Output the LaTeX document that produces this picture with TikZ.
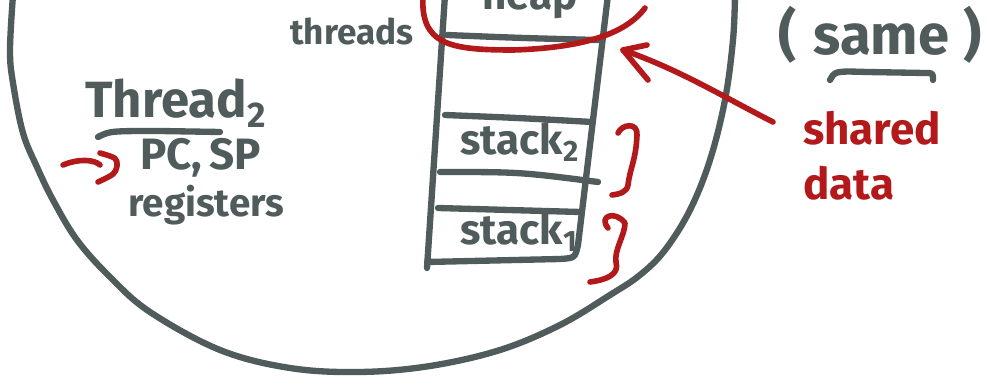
\documentclass[tikz,border=0pt]{standalone}
\usepackage{fontspec}
\setmainfont{Fira Sans}
\definecolor{inkgrey}{HTML}{505B5B}
\definecolor{inkred}{HTML}{B3191A}
\tikzset{
  ink/.style={line width=3.6pt, draw=inkgrey, line cap=round, line join=round},
  redink/.style={line width=3.2pt, draw=inkred, line cap=round, line join=round},
  scrawl/.style={anchor=base west, inner sep=0pt, text=inkgrey, font=\bfseries\fontsize{22}{24}\selectfont},
  redscrawl/.style={scrawl, text=inkred, font=\bfseries\fontsize{25}{27}\selectfont},
}

\begin{document}
\begin{tikzpicture}[x=0.02cm, y=-0.02cm]
\useasboundingbox (0,0) rectangle (988,381);
\clip (0,0) rectangle (988,381);
% the process, open at the top
\draw[ink] plot[smooth, tension=0.6] coordinates {(13,-5) (10,50) (13,83) (23,133) (37,167) (53,200) (77,240) (110,277) (150,312) (220,350) (290,368) (360,372) (430,366) (500,350) (560,325) (610,295) (640,275) (665,250) (690,210) (710,160) (725,100) (733,40) (735,-5)};
% address space column
\draw[ink] (445,-5) -- (427,268);
\draw[ink] (608,-5) -- (578,245) .. controls (575,258) .. (560,259) -- (427,262);
\draw[ink] (447,35) .. controls (520,38) .. (598,40);
\draw[ink] (445,115) .. controls (520,118) .. (592,122);
\draw[ink] (440,172) .. controls (520,172) .. (598,182);
\draw[ink] (438,208) -- (580,212);
\node[scrawl, font=\bfseries\fontsize{24}{26}\selectfont] (heap) at (482,10) {heap};
\node[scrawl, font=\bfseries\fontsize{24}{26}\selectfont] (stacktwo) at (460,155) {stack\textsubscript{2}};
\node[scrawl, font=\bfseries\fontsize{24}{26}\selectfont] (stackone) at (460,245) {stack\textsubscript{1}};
\node[scrawl, font=\bfseries\fontsize{20}{22}\selectfont] (threads) at (290,45) {threads};
% per-thread state
\node[scrawl, font=\bfseries\fontsize{29}{31}\selectfont] (threadtwo) at (85,118) {Thread\textsubscript{2}};
\draw[ink] (98,137) .. controls (110,131) .. (160,131) -- (220,132);
\node[scrawl, font=\bfseries\fontsize{25}{27}\selectfont] (pcsp) at (140,170) {PC,\,SP};
\node[scrawl] (registers) at (128,217) {registers};
\node[scrawl, font=\bfseries\fontsize{32}{34}\selectfont] (same) at (778,55) {(\hspace{0.3em}same\hspace{0.25em})};
\draw[ink] (830,80) .. controls (835,71) .. (867,72) -- (925,73) .. controls (933,73) .. (933,80);
% shared data marks
\draw[redink] (423,-5) .. controls (420,45) and (450,50) .. (513,50) .. controls (580,48) and (625,35) .. (645,8);
\draw[redink] (618,133) .. controls (622,124) and (638,122) .. (637,135) .. controls (636,160) and (630,168) .. (628,185) .. controls (627,192) and (620,194) .. (612,195);
\draw[redink] (608,228) .. controls (598,216) and (615,210) .. (625,223) .. controls (625,235) and (614,250) .. (616,262) .. controls (620,275) and (605,280) .. (590,282);
\draw[redink] (63,165) .. controls (80,158) and (95,160) .. (100,165);
\draw[redink] (100,153) .. controls (117,158) .. (117,166) .. controls (115,174) .. (98,182);
\node[redscrawl] (shared) at (803,145) {shared};
\node[redscrawl] (data) at (803,200) {data};
\coordinate (sharedtail) at (773,122);
\coordinate (heaptip) at (623,50);
\draw[redink] (sharedtail) .. controls (720,95) and (680,70) .. (heaptip);
\draw[redink] (647,45) -- (heaptip) -- (648,80);
\end{tikzpicture}
\end{document}
